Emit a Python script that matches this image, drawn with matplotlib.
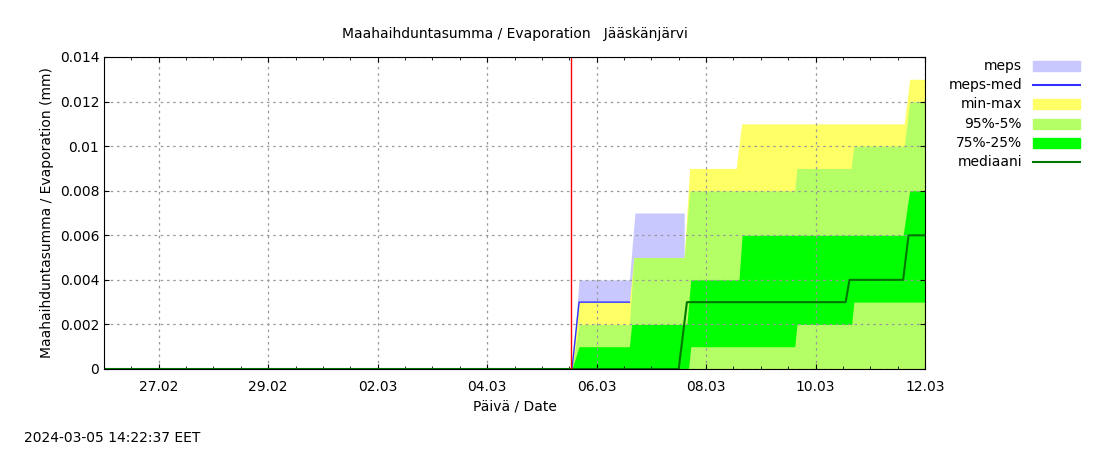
import matplotlib
matplotlib.use("Agg")
import matplotlib.pyplot as plt
import numpy as np
from matplotlib.patches import Rectangle
from matplotlib.lines import Line2D

# x in days since 26.02 00:00
tick_pos = [1, 3, 5, 7, 9, 11, 13, 15]
tick_labels = ["27.02", "29.02", "02.03", "04.03", "06.03", "08.03", "10.03", "12.03"]
forecast_start = 8.53

t_meps = [0, 8.55, 8.68, 9.60, 9.70, 10.60]
v_meps = [0, 0, 0.004, 0.004, 0.007, 0.007]
t_mmed = [0, 8.55, 8.68, 9.60]
v_mmed = [0, 0, 0.003, 0.003]
t_max = [0, 8.55, 8.68, 9.60, 9.68, 10.60, 10.70, 11.55, 11.65, 14.62, 14.72, 15.0]
v_max = [0, 0, 0.003, 0.003, 0.005, 0.005, 0.009, 0.009, 0.011, 0.011, 0.013, 0.013]
t_p95 = [0, 8.55, 8.68, 9.60, 9.68, 10.60, 10.70, 12.62, 12.66, 13.65, 13.70, 14.62, 14.72, 15.0]
v_p95 = [0, 0, 0.002, 0.002, 0.005, 0.005, 0.008, 0.008, 0.009, 0.009, 0.010, 0.010, 0.012, 0.012]
t_p75 = [0, 8.55, 8.68, 9.60, 9.64, 10.65, 10.72, 11.60, 11.66, 14.60, 14.66, 14.72, 15.0]
v_p75 = [0, 0, 0.001, 0.001, 0.002, 0.002, 0.004, 0.004, 0.006, 0.006, 0.007, 0.008, 0.008]
t_p25 = [0, 10.68, 10.72, 12.62, 12.66, 13.66, 13.70, 15.0]
v_p25 = [0, 0, 0.001, 0.001, 0.002, 0.002, 0.003, 0.003]
t_med = [0, 10.5, 10.65, 13.55, 13.62, 14.60, 14.70, 15.0]
v_med = [0, 0, 0.003, 0.003, 0.004, 0.004, 0.006, 0.006]

fig = plt.figure(figsize=(11, 4.5), dpi=100)
ax = fig.add_axes([104/1100, 81/450, 821/1100, 312/450])

grid = np.linspace(0, 15, 30001)
def f(t, v):
    return np.interp(grid, t, v, right=np.nan)

z = 0
m = f(t_meps, v_meps)
ax.fill_between(grid, 0, m, color="#c8c8ff", lw=0, where=~np.isnan(m))
ax.plot(t_mmed, v_mmed, color="#3333ff", lw=1)
ax.fill_between(grid, 0, f(t_max, v_max), color="#ffff66", lw=0)
ax.fill_between(grid, 0, f(t_p95, v_p95), color="#b4ff66", lw=0)
ax.fill_between(grid, f(t_p25, v_p25), f(t_p75, v_p75), color="#00ff00", lw=0)
ax.plot(t_med, v_med, color="#007700", lw=1.5)
ax.axvline(forecast_start, color="red", lw=1)

ax.set_xlim(0, 15)
ax.set_ylim(0, 0.014)
ax.set_xticks(tick_pos)
ax.set_xticklabels(tick_labels)
ax.set_xticks(np.arange(0, 15.01, 0.5), minor=True)
ax.set_yticks(np.arange(0, 0.0141, 0.002))
ax.set_yticklabels(["0", "0.002", "0.004", "0.006", "0.008", "0.01", "0.012", "0.014"])
ax.grid(True, color="#999999", ls=(0, (2, 3)), lw=0.9)
ax.tick_params(direction="in", labelsize=10, top=True, right=True, which="both")
ax.tick_params(axis="x", pad=8)
ax.set_xlabel("Päivä / Date", fontsize=10)
ax.set_ylabel("Maahaihduntasumma / Evaporation (mm)", fontsize=10)
ax.set_title("Maahaihduntasumma / Evaporation   Jääskänjärvi", fontsize=10, pad=14)

labels = ["meps", "meps-med", "min-max", "95%-5%", "75%-25%", "mediaani"]
styles = [("p", "#c8c8ff"), ("l", "#3333ff"), ("p", "#ffff66"), ("p", "#b4ff66"), ("p", "#00ff00"), ("l", "#007700")]
for i, (lab, (k, c)) in enumerate(zip(labels, styles)):
    yc = 1 - (66 + i * 19.2) / 450
    fig.text(1022/1100, yc, lab, ha="right", va="center", fontsize=10)
    if k == "p":
        fig.patches.append(Rectangle((1033/1100, yc - 5/450), 47/1100, 10/450, transform=fig.transFigure, color=c))
    else:
        fig.lines.append(Line2D([1033/1100, 1080/1100], [yc, yc], transform=fig.transFigure, color=c, lw=1.5))

fig.text(24/1100, 1 - 438/450, "2024-03-05 14:22:37 EET", fontsize=10, va="center")
fig.savefig("out.png")
